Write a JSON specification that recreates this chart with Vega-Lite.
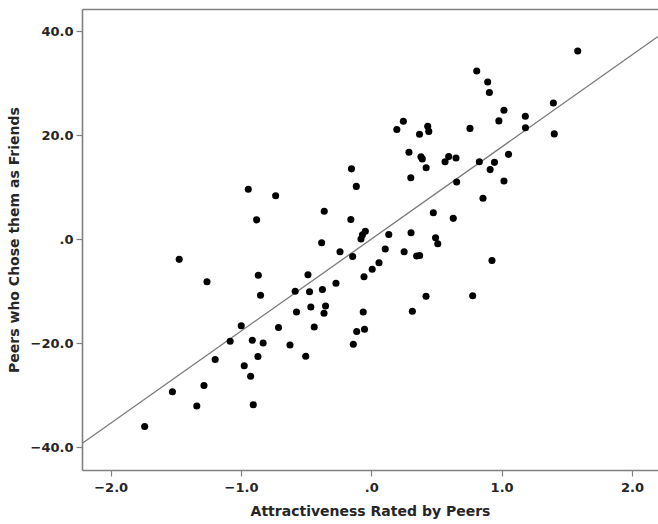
{
  "$schema": "https://vega.github.io/schema/vega-lite/v6.json",
  "width": 576,
  "height": 461,
  "autosize": {"type": "none"},
  "padding": {"left": 82, "top": 9, "right": 0, "bottom": 54},
  "background": "white",
  "config": {
    "view": {"stroke": null},
    "axis": {
      "labelFont": "DejaVu Sans",
      "labelFontWeight": "bold",
      "labelFontSize": 13,
      "labelColor": "#262626",
      "titleFont": "DejaVu Sans",
      "titleFontWeight": "bold",
      "titleFontSize": 14,
      "titleColor": "#262626",
      "domainColor": "#808080",
      "domainWidth": 1.6,
      "tickColor": "#808080",
      "tickWidth": 1.2,
      "tickSize": 6,
      "grid": false
    }
  },
  "datasets": {
    "pts": [
      {"attr": -1.739, "peers": -36.02},
      {"attr": -1.526, "peers": -29.33},
      {"attr": -1.339, "peers": -32.08},
      {"attr": -1.284, "peers": -28.13},
      {"attr": -1.198, "peers": -23.13},
      {"attr": -1.083, "peers": -19.62},
      {"attr": -0.998, "peers": -16.63},
      {"attr": -0.975, "peers": -24.35},
      {"attr": -0.926, "peers": -26.37},
      {"attr": -0.913, "peers": -19.42},
      {"attr": -0.906, "peers": -31.85},
      {"attr": -0.870, "peers": -22.56},
      {"attr": -0.830, "peers": -19.96},
      {"attr": -0.712, "peers": -16.98},
      {"attr": -0.624, "peers": -20.35},
      {"attr": -0.574, "peers": -14.0},
      {"attr": -0.850, "peers": -10.79},
      {"attr": -0.944, "peers": 9.62},
      {"attr": -0.734, "peers": 8.37},
      {"attr": -0.880, "peers": 3.73},
      {"attr": -1.474, "peers": -3.87},
      {"attr": -1.261, "peers": -8.19},
      {"attr": -0.867, "peers": -6.92},
      {"attr": -0.584, "peers": -10.0},
      {"attr": 0.289, "peers": 16.73},
      {"attr": 0.381, "peers": 15.85},
      {"attr": 0.391, "peers": 15.46},
      {"attr": 0.421, "peers": 13.75},
      {"attr": 0.566, "peers": 14.90},
      {"attr": 0.594, "peers": 15.90},
      {"attr": 0.650, "peers": 15.62},
      {"attr": 0.303, "peers": 11.83},
      {"attr": -0.152, "peers": 13.54},
      {"attr": -0.115, "peers": 10.17},
      {"attr": -0.361, "peers": 5.38},
      {"attr": -0.157, "peers": 3.79},
      {"attr": 0.476, "peers": 5.08},
      {"attr": -0.046, "peers": 1.52},
      {"attr": -0.068, "peers": 0.85},
      {"attr": -0.079, "peers": 0.04},
      {"attr": 0.134, "peers": 0.90},
      {"attr": 0.305, "peers": 1.25},
      {"attr": -0.381, "peers": -0.67},
      {"attr": 0.493, "peers": 0.29},
      {"attr": 0.510, "peers": -0.87},
      {"attr": -0.240, "peers": -2.40},
      {"attr": 0.107, "peers": -1.88},
      {"attr": 0.252, "peers": -2.42},
      {"attr": -0.143, "peers": -3.33},
      {"attr": 0.348, "peers": -3.23},
      {"attr": 0.371, "peers": -3.13},
      {"attr": 0.059, "peers": -4.52},
      {"attr": 0.007, "peers": -5.79},
      {"attr": -0.486, "peers": -6.83},
      {"attr": -0.056, "peers": -7.21},
      {"attr": -0.271, "peers": -8.48},
      {"attr": -0.474, "peers": -10.10},
      {"attr": -0.375, "peers": -9.67},
      {"attr": 0.420, "peers": -10.96},
      {"attr": -0.464, "peers": -13.04},
      {"attr": -0.351, "peers": -12.85},
      {"attr": -0.363, "peers": -14.25},
      {"attr": -0.062, "peers": -14.0},
      {"attr": 0.315, "peers": -13.87},
      {"attr": -0.438, "peers": -16.88},
      {"attr": -0.112, "peers": -17.75},
      {"attr": -0.052, "peers": -17.31},
      {"attr": -0.138, "peers": -20.21},
      {"attr": -0.503, "peers": -22.5},
      {"attr": 0.809, "peers": 32.38},
      {"attr": 0.893, "peers": 30.27},
      {"attr": 0.906, "peers": 28.25},
      {"attr": 0.246, "peers": 22.69},
      {"attr": 0.196, "peers": 21.10},
      {"attr": 0.433, "peers": 21.73},
      {"attr": 0.441, "peers": 20.75},
      {"attr": 0.370, "peers": 20.19},
      {"attr": 1.018, "peers": 24.81},
      {"attr": 0.979, "peers": 22.77},
      {"attr": 1.182, "peers": 23.65},
      {"attr": 1.183, "peers": 21.44},
      {"attr": 0.757, "peers": 21.33},
      {"attr": 1.397, "peers": 26.23},
      {"attr": 1.404, "peers": 20.27},
      {"attr": 1.584, "peers": 36.23},
      {"attr": 0.829, "peers": 14.90},
      {"attr": 0.945, "peers": 14.79},
      {"attr": 0.912, "peers": 13.40},
      {"attr": 1.053, "peers": 16.33},
      {"attr": 0.655, "peers": 11.0},
      {"attr": 1.018, "peers": 11.19},
      {"attr": 0.857, "peers": 7.87},
      {"attr": 0.629, "peers": 4.02},
      {"attr": 0.926, "peers": -4.10},
      {"attr": 0.778, "peers": -10.88}
    ],
    "fit": [
      {"attr": -2.22, "peers": -39.3},
      {"attr": 2.2, "peers": 39.0}
    ]
  },
  "layer": [
    {
      "data": {"name": "fit"},
      "mark": {"type": "line", "color": "#7a7a7a", "strokeWidth": 1.3, "clip": true},
      "encoding": {
        "x": {
          "field": "attr", "type": "quantitative",
          "scale": {"domain": [-2.22, 2.2], "nice": false, "zero": false},
          "axis": {"orient": "top", "labels": false, "ticks": false, "title": null, "domain": true}
        },
        "y": {
          "field": "peers", "type": "quantitative",
          "scale": {"domain": [-44.4, 44.3], "nice": false, "zero": false},
          "axis": {
            "values": [-40, -20, 0, 20, 40],
            "labelExpr": "datum.value == 0 ? '.0' : format(datum.value, '.1f')",
            "title": "Peers who Chose them as Friends",
            "labelPadding": 3,
            "titlePadding": 9
          }
        }
      }
    },
    {
      "data": {"name": "pts"},
      "mark": {"type": "circle", "color": "#000000", "opacity": 1, "size": 50},
      "encoding": {
        "x": {
          "field": "attr", "type": "quantitative",
          "axis": {
            "orient": "bottom",
            "values": [-2, -1, 0, 1, 2],
            "labelExpr": "datum.value == 0 ? '.0' : format(datum.value, '.1f')",
            "title": "Attractiveness Rated by Peers",
            "labelPadding": 5,
            "titlePadding": 10
          }
        },
        "y": {"field": "peers", "type": "quantitative"}
      }
    }
  ],
  "resolve": {"axis": {"x": "independent"}}
}
